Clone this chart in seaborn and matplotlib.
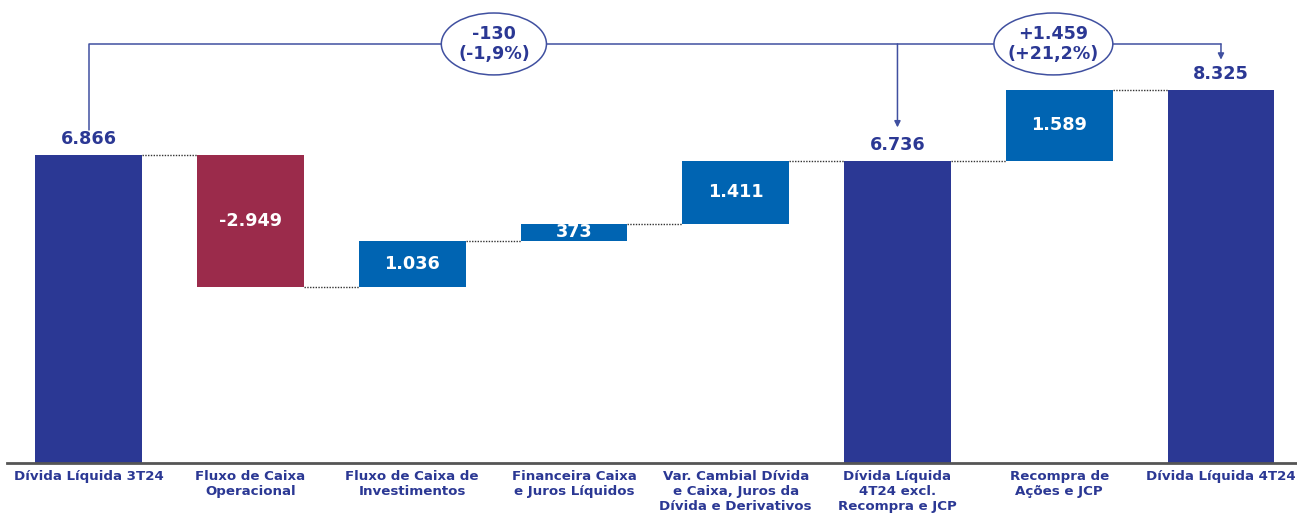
import numpy as np
import pandas as pd
import matplotlib
matplotlib.use("Agg")
import matplotlib.pyplot as plt
from matplotlib.patches import Ellipse
import seaborn as sns

# Net debt bridge (R$ million)
categories = [
    "Dívida Líquida 3T24",
    "Fluxo de Caixa\nOperacional",
    "Fluxo de Caixa de\nInvestimentos",
    "Financeira Caixa\ne Juros Líquidos",
    "Var. Cambial Dívida\ne Caixa, Juros da\nDívida e Derivativos",
    "Dívida Líquida\n4T24 excl.\nRecompra e JCP",
    "Recompra de\nAções e JCP",
    "Dívida Líquida 4T24",
]
values = [6866, -2949, 1036, 373, 1411, 6736, 1589, 8325]
kinds = ["total", "delta", "delta", "delta", "delta", "total", "delta", "total"]

NAVY = "#2B3894"
BLUE = "#0064B2"
RED = "#9B2B4B"
LINE = "#4050A0"

# Floating bar geometry for the waterfall
bottoms, spans, levels, colors = [], [], [], []
running = 0
for v, k in zip(values, kinds):
    if k == "total":
        bottoms.append(0)
        spans.append(v)
        running = v
        colors.append(NAVY)
    else:
        bottoms.append(running if v > 0 else running + v)
        spans.append(abs(v))
        running += v
        colors.append(BLUE if v > 0 else RED)
    levels.append(running)

df = pd.DataFrame({"categoria": categories, "span": spans})

sns.set_theme(style="white")
plt.rcParams["font.family"] = ["DejaVu Sans"]

fig = plt.figure(figsize=(12.97, 5.17), dpi=100)
ax = fig.add_axes([7 / 1297, 54 / 517, 1290 / 1297, 463 / 517])

sns.barplot(data=df, x="categoria", y="span", width=0.66, ax=ax,
            color=NAVY, saturation=1, errorbar=None)

for patch, b, c in zip(ax.patches, bottoms, colors):
    patch.set_y(b)
    patch.set_facecolor(c)
    patch.set_edgecolor("none")

ax.set_xlim(-0.505, 7.47)
ax.set_ylim(0, 10320)

half = 0.33
# Dotted connectors between consecutive bars
for i in range(len(values) - 1):
    ax.plot([i + half, i + 1 - half], [levels[i], levels[i]],
            color="#333333", lw=1.0, ls=(0, (1, 1)), zorder=1)

# Value labels
for i, (v, k) in enumerate(zip(values, kinds)):
    txt = f"{v:,}".replace(",", ".")
    if k == "total":
        ax.text(i, v + 150, txt, ha="center", va="bottom", color=NAVY,
                fontsize=12.7, fontweight="bold")
    else:
        ax.text(i, bottoms[i] + spans[i] / 2, txt, ha="center", va="center",
                color="white", fontsize=12.7, fontweight="bold")

# Variation brackets
y_top = 9340
ax.plot([0, 0, 7], [7420, y_top, y_top], color=LINE, lw=1.1, zorder=2)
for xa, ya in [(5, 7480), (7, 8990)]:
    ax.annotate("", xy=(xa, ya), xytext=(xa, y_top),
                arrowprops=dict(arrowstyle="-|>", color=LINE, lw=1.1,
                                mutation_scale=9, shrinkA=0, shrinkB=0))

d1 = values[5] - values[0]
d2 = values[7] - values[0]
for xc, w, d in [(2.505, 0.65, d1), (5.964, 0.735, d2)]:
    sign = "+" if d > 0 else "-"
    pct = f"{abs(d) / values[0] * 100:.1f}".replace(".", ",")
    num = f"{abs(d):,}".replace(",", ".")
    ax.add_patch(Ellipse((xc, y_top), w, 1380, facecolor="white",
                         edgecolor=LINE, lw=1.1, zorder=3))
    ax.text(xc, y_top, f"{sign}{num}\n({sign}{pct}%)", ha="center", va="center",
            color=NAVY, fontsize=12.6, fontweight="bold", linespacing=1.2,
            zorder=4)

# Axis styling
sns.despine(ax=ax, left=True, top=True, right=True)
ax.spines["bottom"].set_color("#555555")
ax.spines["bottom"].set_linewidth(2)
ax.set_yticks([])
ax.set_xlabel("")
ax.set_ylabel("")
ax.tick_params(axis="x", length=0, pad=5)
ax.set_xticks(range(len(categories)))
ax.set_xticklabels(categories, color=NAVY, fontsize=9.6, fontweight="bold",
                   linespacing=1.2, va="top")

fig.savefig("out.png", dpi=100, facecolor="white")
